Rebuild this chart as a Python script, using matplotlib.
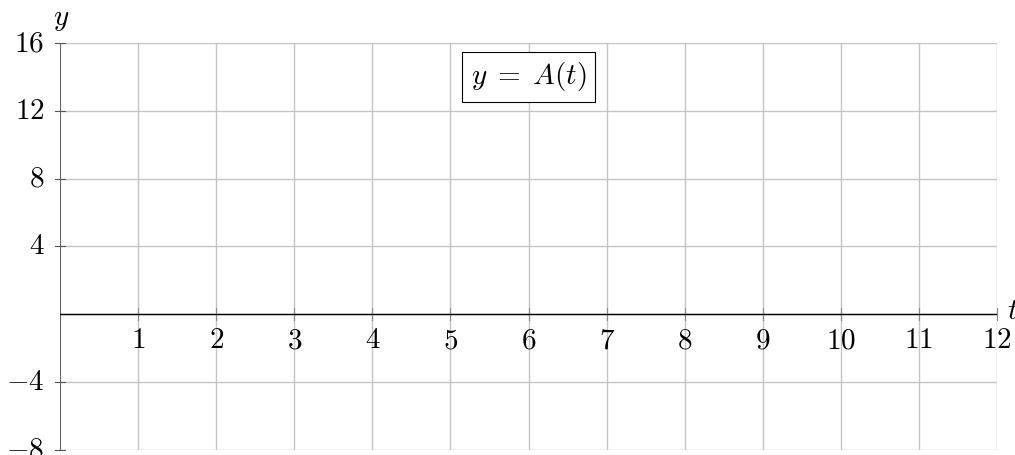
import numpy as np
import matplotlib
matplotlib.use("Agg")
import matplotlib.pyplot as plt

plt.rcParams["mathtext.fontset"] = "cm"
plt.rcParams["font.family"] = "serif"
plt.rcParams["font.serif"] = ["DejaVu Serif"]

# axis ranges and tick labels
x_min, x_max = 0, 12
y_min, y_max = -8, 16
x_ticks = list(range(1, 13))
y_ticks = [-8, -4, 4, 8, 12, 16]
x_grid = list(range(0, 13))
y_grid = [-8, -4, 0, 4, 8, 12, 16]
curve_label = r"$y\;=\;A(t)$"
label_pos = (6, 14)

FS = 21
GRID = "#c4c4c4"

fig = plt.figure(figsize=(10.15, 4.55), dpi=100)
ax = fig.add_axes([60 / 1015, 5.5 / 455, (997 - 60) / 1015, (449.5 - 43) / 455])
ax.set_xlim(x_min, x_max)
ax.set_ylim(y_min, y_max)

for s in ax.spines.values():
    s.set_visible(False)
ax.set_xticks([])
ax.set_yticks([])

# grid
for gx in x_grid:
    ax.axvline(gx, color=GRID, lw=1.0, zorder=1)
for gy in y_grid:
    ax.axhline(gy, color=GRID, lw=1.0, zorder=1)

# axes lines
ax.axvline(0, color="#555555", lw=1.2, zorder=3)
ax.axhline(0, color="black", lw=1.0, zorder=3)

# ticks and labels
for tx in x_ticks:
    ax.plot([tx, tx], [-0.35, 0.35], color="#888888", lw=0.8, zorder=2, clip_on=False)
    ax.text(tx, -1.55, f"${tx}$", ha="center", va="center", fontsize=FS, zorder=4)
for ty in y_ticks:
    ax.plot([-0.06, 0.06], [ty, ty], color="#555555", lw=0.8, zorder=3, clip_on=False)
    ax.text(-0.2, ty, f"${ty}$", ha="right", va="center", fontsize=FS, zorder=4, clip_on=False)

ax.text(0.02, 17.4, "$y$", ha="center", va="center", fontsize=FS, clip_on=False)
ax.text(12.2, 0.15, "$t$", ha="center", va="center", fontsize=FS, clip_on=False)

ax.text(label_pos[0], label_pos[1], curve_label, ha="center", va="center", fontsize=FS,
        zorder=5, bbox=dict(boxstyle="square,pad=0.3", fc="white", ec="black", lw=0.8))

fig.savefig("out.png", dpi=100)
